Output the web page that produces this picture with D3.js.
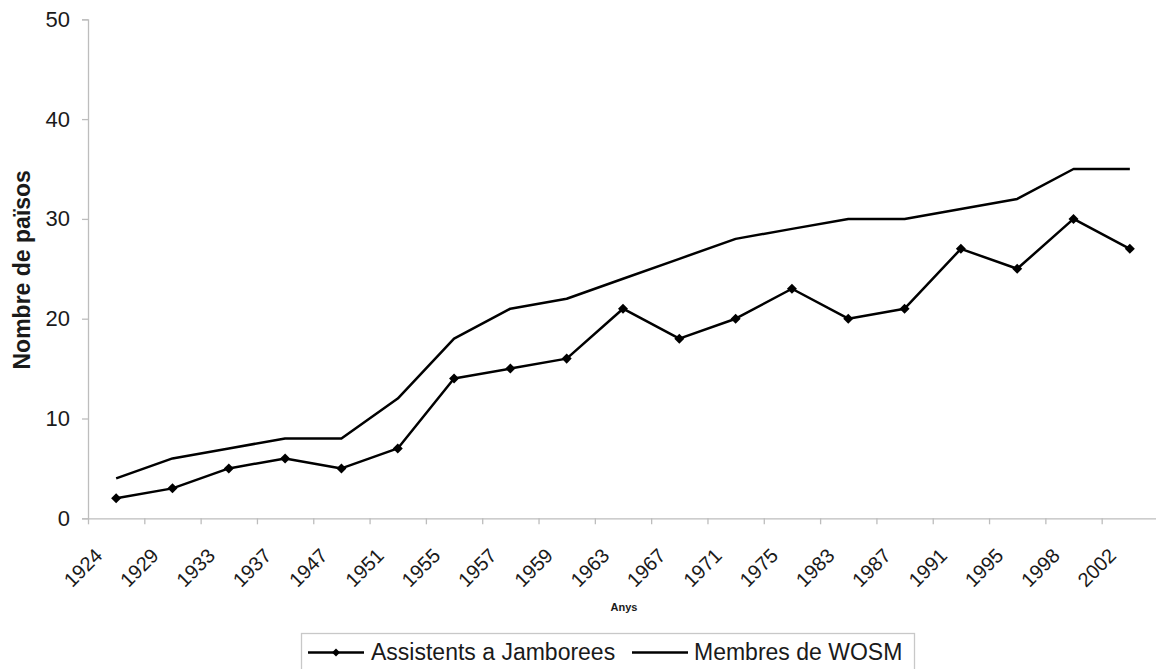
<!DOCTYPE html>
<html>
<head>
<meta charset="utf-8">
<script src="https://cdn.jsdelivr.net/npm/d3@7/dist/d3.min.js"></script>
<style>
  html, body { margin: 0; padding: 0; background: #fff; }
  svg { display: block; font-family: "Liberation Sans", Arial, Helvetica, sans-serif; }
</style>
</head>
<body>
<svg id="chart" width="1156" height="669"></svg>
<script>
// ---- data ----
const years = ["1924","1929","1933","1937","1947","1951","1955","1957","1959","1963",
               "1967","1971","1975","1983","1987","1991","1995","1998","2002"];
const jamborees = [2,3,5,6,5,7,14,15,16,21,18,20,23,20,21,27,25,30,27];
const wosm      = [4,6,7,8,8,12,18,21,22,24,26,28,29,30,30,31,32,35,35];
const yTicks = [0,10,20,30,40,50];
const seriesNames = ["Assistents a Jamborees","Membres de WOSM"];
const yTitle = "Nombre de països";
const xTitle = "Anys";

// ---- layout ----
(function () {
const svg = d3.select("#chart");
const mLeft = 88, mRight = 1158, mTop = 19.3, mBottom = 518.3;
const axisColor = "#bdbdbd";
const textColor = "#1a1a1a";

const x = d3.scaleBand().domain(years).range([mLeft, mRight]).padding(0);
const xEdge = d3.scaleLinear().domain([0, years.length]).range([mLeft, mRight]);
const y = d3.scaleLinear().domain([0, 50]).range([mBottom, mTop]);
const cx = d => x(d) + x.bandwidth() / 2;

// y axis
const yAxis = svg.append("g")
  .attr("transform", `translate(${mLeft},0)`)
  .call(d3.axisLeft(y).tickValues(yTicks).tickSize(6).tickPadding(12).tickFormat(d3.format("d")));
yAxis.select(".domain").attr("stroke", axisColor).attr("stroke-width", 1.3);
yAxis.selectAll(".tick line").attr("stroke", axisColor).attr("stroke-width", 1.3);
yAxis.selectAll(".tick text")
  .attr("fill", textColor).attr("font-size", 22)
  .attr("font-family", "'Liberation Sans', Arial, sans-serif");

// x axis (ticks at category boundaries)
const xAxis = svg.append("g")
  .attr("transform", `translate(0,${mBottom})`)
  .call(d3.axisBottom(xEdge).tickValues(d3.range(years.length + 1)).tickSize(6).tickSizeOuter(0).tickFormat(""));
xAxis.select(".domain").attr("stroke", axisColor).attr("stroke-width", 1.3);
xAxis.selectAll(".tick line").attr("stroke", axisColor).attr("stroke-width", 1.3);

// x labels, rotated
svg.append("g").selectAll("text").data(years).join("text")
  .attr("transform", d => `translate(${cx(d) - 12.5},${mBottom + 38.5}) rotate(-45)`)
  .attr("text-anchor", "end")
  .attr("font-size", 20)
  .attr("fill", textColor)
  .text(d => d);

// axis titles
svg.append("text")
  .attr("transform", `translate(30,${(mTop + mBottom) / 2 + 1}) rotate(-90)`)
  .attr("text-anchor", "middle")
  .attr("font-size", 23).attr("font-weight", "bold").attr("fill", textColor)
  .text(yTitle);

svg.append("text")
  .attr("x", (mLeft + mRight) / 2 + 1).attr("y", 611)
  .attr("text-anchor", "middle")
  .attr("font-size", 11).attr("font-weight", "bold").attr("fill", textColor)
  .text(xTitle);

// lines
const line = d3.line().x((d, i) => cx(years[i])).y(d => y(d));
svg.append("path").datum(wosm)
  .attr("d", line).attr("fill", "none").attr("stroke", "#000").attr("stroke-width", 2.5)
  .attr("stroke-linejoin", "round");
svg.append("path").datum(jamborees)
  .attr("d", line).attr("fill", "none").attr("stroke", "#000").attr("stroke-width", 2.5)
  .attr("stroke-linejoin", "round");

// diamond markers
const diamond = d3.symbol().type(d3.symbolDiamond2).size(64);
svg.append("g").selectAll("path").data(jamborees).join("path")
  .attr("transform", (d, i) => `translate(${cx(years[i])},${y(d)})`)
  .attr("d", diamond).attr("fill", "#000");

// legend
const lg = svg.append("g");
lg.append("rect")
  .attr("x", 301.5).attr("y", 633.5).attr("width", 613).attr("height", 42)
  .attr("fill", "#fff").attr("stroke", "#c8c8c8").attr("stroke-width", 1.3);
const legendItems = [
  { name: seriesNames[0], x1: 308, x2: 364, tx: 371, marker: true },
  { name: seriesNames[1], x1: 632, x2: 688, tx: 694, marker: false }
];
const ly = 652.5;
legendItems.forEach(it => {
  lg.append("line").attr("x1", it.x1).attr("x2", it.x2).attr("y1", ly).attr("y2", ly)
    .attr("stroke", "#000").attr("stroke-width", 2.5);
  if (it.marker) {
    lg.append("path").attr("transform", `translate(${(it.x1 + it.x2) / 2},${ly})`)
      .attr("d", d3.symbol().type(d3.symbolDiamond2).size(40)).attr("fill", "#000");
  }
  lg.append("text").attr("x", it.tx).attr("y", ly + 7.5)
    .attr("font-size", 23).attr("fill", textColor).text(it.name);
});
})();
</script>
</body>
</html>
